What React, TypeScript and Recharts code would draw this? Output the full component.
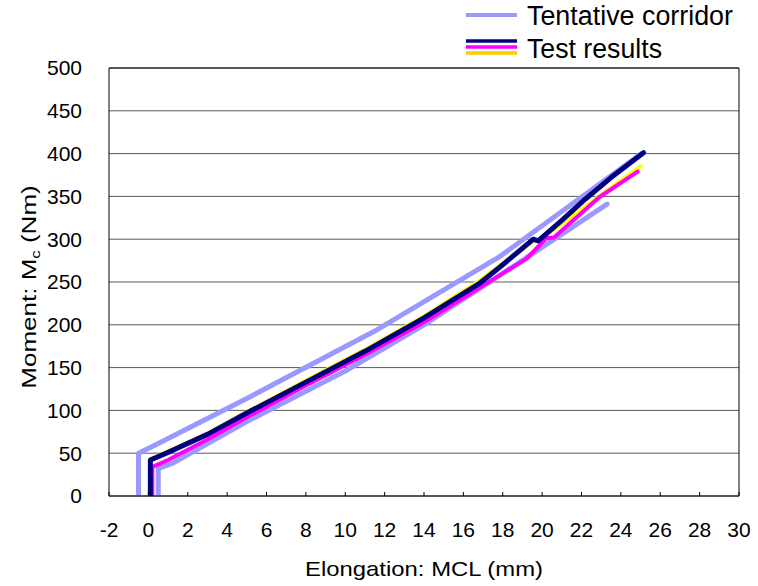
import React from 'react';
import { LineChart, Line, XAxis, YAxis, CartesianGrid, ReferenceLine, Legend, Label } from 'recharts';

const FONT = "Arial, 'Liberation Sans', sans-serif";

const CORRIDOR = '#9999ff';
const NAVY = '#000080';
const MAGENTA = '#ff00ff';
const YELLOW = '#ffff00';

// axis ticks
const xTicks = [-2, 0, 2, 4, 6, 8, 10, 12, 14, 16, 18, 20, 22, 24, 26, 28, 30];
const yTicks = [0, 50, 100, 150, 200, 250, 300, 350, 400, 450, 500];

// tentative corridor (upper / lower bound)
const upperX = [-0.5, -0.5, 0.3, 5, 11.6, 17.8, 25.05];
const upperY = [0, 50, 59, 114, 194, 279, 400];
const lowerX = [0.5, 0.5, 1.2, 5, 10, 14, 17.8, 23.3];
const lowerY = [0, 32, 38, 87, 146, 200, 257, 341];

// test results
const navyX = [0.1, 0.1, 1.0, 3, 5, 8, 11, 14, 16.8, 17.83, 19.45, 19.55, 19.8, 21, 22.2, 23.5, 25.15];
const navyY = [0, 42, 51, 72, 97, 133, 169, 208, 248, 267, 298, 300, 298, 322, 347, 372, 401];
const yellowX = [0.1, 0.1, 1, 3, 5, 8, 11, 14, 16.8, 17.83, 19.4, 20.2, 21, 22.9, 25.0];
const yellowY = [0, 43, 52, 73, 98, 135, 171, 210, 251, 269, 295, 305, 318, 350, 385];
const magentaX = [0.2, 0.2, 1, 3, 5, 8, 11, 14, 16.8, 18.2, 19.2, 20.2, 20.6, 22.9, 24.85];
const magentaY = [0, 34, 42, 66, 92, 129, 165, 203, 243, 263, 277, 301, 302, 349, 379];

const toPoints = (xs: number[], ys: number[]) => xs.map((x, i) => ({ x, y: ys[i] }));

const upper = toPoints(upperX, upperY);
const lower = toPoints(lowerX, lowerY);
const navy = toPoints(navyX, navyY);
const yellow = toPoints(yellowX, yellowY);
const magenta = toPoints(magentaX, magentaY);

const tickStyle = { fill: '#000', fontSize: 21, fontFamily: FONT };

function LegendBox() {
  return (
    <svg width={290} height={66} style={{ display: 'block' }}>
      <line x1={6} x2={57} y1={15} y2={15} stroke={CORRIDOR} strokeWidth={4} />
      <text x={67} y={25} fontSize={27} fontFamily={FONT} textLength={206} lengthAdjust="spacingAndGlyphs">
        Tentative corridor
      </text>
      <line x1={6} x2={57} y1={41} y2={41} stroke={NAVY} strokeWidth={3.5} />
      <line x1={6} x2={57} y1={47} y2={47} stroke={MAGENTA} strokeWidth={3.5} />
      <line x1={6} x2={57} y1={53} y2={53} stroke="#ffcc00" strokeWidth={3.5} />
      <text x={67} y={58} fontSize={27} fontFamily={FONT} textLength={135} lengthAdjust="spacingAndGlyphs">
        Test results
      </text>
    </svg>
  );
}

const XTitle = () => (
  <text x={424} y={576} textAnchor="middle" fontSize={21} fontFamily={FONT} fill="#000"
    textLength={238} lengthAdjust="spacingAndGlyphs">
    Elongation: MCL (mm)
  </text>
);

const YTitle = () => (
  <text transform="translate(36, 287) rotate(-90) scale(1.3, 1)" textAnchor="middle" fontSize={20} fontFamily={FONT} fill="#000">
    <tspan>Moment: M</tspan>
    <tspan fontSize={13} dy={4}>c</tspan>
    <tspan dy={-4}> (Nm)</tspan>
  </text>
);

export default function App() {
  return (
    <div style={{ position: 'absolute', left: 0, top: 0, width: 758, height: 586, background: '#fff' }}>
      <LineChart width={758} height={586} margin={{ top: 68, right: 19, left: 0, bottom: 0 }}>
        <CartesianGrid vertical={false} stroke="#5a5a5a" />
        <XAxis
          type="number"
          dataKey="x"
          domain={[-2, 30]}
          ticks={xTicks}
          interval={0}
          allowDataOverflow
          height={90}
          tick={tickStyle}
          tickSize={-4}
          tickMargin={30}
          axisLine={{ stroke: '#000' }}
          tickLine={{ stroke: '#000' }}
        >
          <Label content={XTitle} />
        </XAxis>
        <YAxis
          type="number"
          domain={[0, 500]}
          ticks={yTicks}
          interval={0}
          allowDataOverflow
          width={109}
          tick={tickStyle}
          tickLine={false}
          tickSize={0}
          tickMargin={27}
          axisLine={{ stroke: '#000' }}
        >
          <Label content={YTitle} />
        </YAxis>
        <ReferenceLine x={30} stroke="#000" />
        <ReferenceLine y={500} stroke="#000" />
        <Legend
          layout="vertical"
          align="center"
          verticalAlign="middle"
          content={() => <LegendBox />}
          wrapperStyle={{ left: 460, top: 0, width: 290 }}
        />
        <Line data={upper} dataKey="y" type="linear" stroke={CORRIDOR} strokeWidth={5} dot={false}
          strokeLinecap="round" strokeLinejoin="round" isAnimationActive={false} />
        <Line data={lower} dataKey="y" type="linear" stroke={CORRIDOR} strokeWidth={5} dot={false}
          strokeLinecap="round" strokeLinejoin="round" isAnimationActive={false} />
        <Line data={yellow} dataKey="y" type="linear" stroke={YELLOW} strokeWidth={4} dot={false}
          strokeLinecap="round" strokeLinejoin="round" isAnimationActive={false} />
        <Line data={magenta} dataKey="y" type="linear" stroke={MAGENTA} strokeWidth={4} dot={false}
          strokeLinecap="round" strokeLinejoin="round" isAnimationActive={false} />
        <Line data={navy} dataKey="y" type="linear" stroke={NAVY} strokeWidth={5} dot={false}
          strokeLinecap="round" strokeLinejoin="round" isAnimationActive={false} />
      </LineChart>
    </div>
  );
}
